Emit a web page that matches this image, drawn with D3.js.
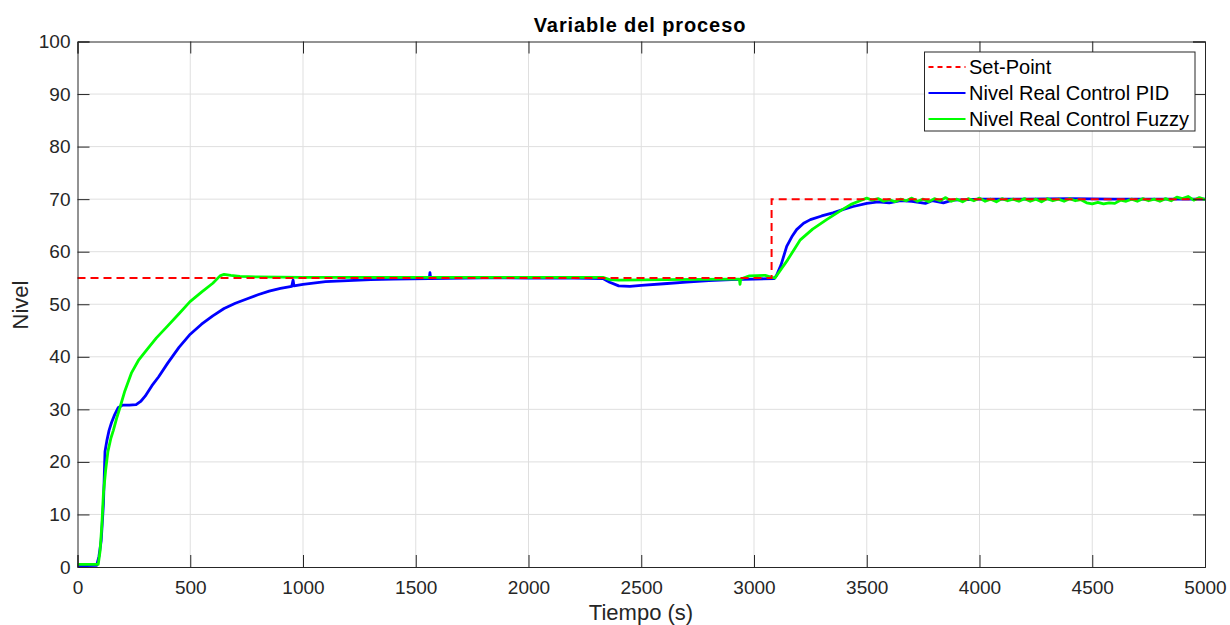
<!DOCTYPE html>
<html>
<head>
<meta charset="utf-8">
<script src="https://cdn.jsdelivr.net/npm/d3@7"></script>
<style>
  body { margin: 0; background: #fff; }
  svg { display: block; font-family: "Liberation Sans", Arial, sans-serif; }
</style>
</head>
<body>
<svg id="chart" width="1230" height="625"></svg>
<script>
// --- data ---
var xTicks = [0, 500, 1000, 1500, 2000, 2500, 3000, 3500, 4000, 4500, 5000];
var yTicks = [0, 10, 20, 30, 40, 50, 60, 70, 80, 90, 100];

var legendNames = ["Set-Point", "Nivel Real Control PID", "Nivel Real Control Fuzzy"];

// set-point (step at ~3078 s)
var setPoint = [[0, 55], [3078, 55], [3078, 70], [5000, 70]];

// PID response
var pidLevel = [
  [0, 0.2], [85, 0.3], [95, 2], [105, 5], [115, 12], [122, 22], [130, 24], [140, 26],
  [151, 27.5], [165, 29], [180, 30.3], [200, 30.8], [230, 30.8], [260, 30.9], [280, 31.5],
  [300, 32.5], [330, 34.5], [360, 36.2], [400, 38.8], [450, 41.8], [500, 44.3], [550, 46.2],
  [600, 47.8], [650, 49.2], [700, 50.2], [750, 51], [800, 51.8], [850, 52.5], [900, 53],
  [950, 53.4], [956, 54.6], [960, 53.5], [1000, 53.8], [1100, 54.3], [1200, 54.5], [1300, 54.7],
  [1400, 54.8], [1560, 54.9], [1563, 56], [1566, 54.9], [1800, 55], [2000, 55], [2200, 55],
  [2330, 54.9], [2360, 54.2], [2400, 53.5], [2450, 53.4], [2500, 53.6], [2600, 53.9],
  [2700, 54.2], [2800, 54.5], [2900, 54.7], [3000, 54.8], [3090, 54.9], [3100, 55.5],
  [3120, 57.5], [3145, 61], [3170, 63], [3189, 64.2], [3220, 65.4], [3250, 66.1], [3300, 66.8],
  [3350, 67.4], [3400, 68.1], [3440, 68.6], [3500, 69.2], [3550, 69.5], [3600, 69.3],
  [3650, 69.7], [3700, 69.6], [3760, 69.2], [3790, 69.7], [3840, 69.3], [3880, 69.8],
  [3950, 69.9], [4000, 70], [4200, 70], [4400, 70.1], [4600, 70], [4800, 70], [5000, 70]
];

// Fuzzy response
var fuzzyLevel = [
  [0, 0.5], [92, 0.5], [100, 3], [108, 8], [115, 14], [125, 18.5], [135, 22], [148, 24.5],
  [159, 26], [175, 28.5], [188, 30.3], [210, 33.5], [240, 37], [270, 39.3], [307, 41.3],
  [350, 43.6], [396, 45.7], [450, 48.2], [499, 50.5], [550, 52.3], [600, 54], [632, 55.4],
  [650, 55.7], [680, 55.5], [720, 55.3], [800, 55.2], [1000, 55.1], [1500, 55.1], [2000, 55.1],
  [2330, 55.1], [2360, 54.7], [2400, 54.6], [2600, 54.7], [2900, 54.8], [2935, 54.8],
  [2938, 53.8], [2941, 54.8], [2980, 55.4], [3050, 55.5], [3078, 55.1], [3093, 55],
  [3150, 58.5], [3204, 62.2], [3260, 64.3], [3322, 66.1], [3395, 68.1], [3430, 69],
  [3470, 69.7], [3500, 70.2], [3525, 69.8], [3550, 70.1], [3575, 69.6], [3600, 69.9],
  [3625, 69.5], [3650, 70], [3675, 69.7], [3700, 70.2], [3725, 69.6], [3750, 70],
  [3775, 69.5], [3800, 70.1], [3825, 69.7], [3850, 70.3], [3875, 69.6], [3900, 70],
  [3925, 69.5], [3950, 70.1], [3975, 69.7], [4000, 70.2], [4025, 69.6], [4050, 70],
  [4075, 69.5], [4100, 70.1], [4125, 69.7], [4150, 70], [4175, 69.6], [4200, 70.1],
  [4225, 69.6], [4250, 70], [4275, 69.5], [4300, 70.1], [4325, 69.7], [4350, 70],
  [4375, 69.6], [4400, 70.1], [4425, 69.7], [4450, 69.9], [4475, 69.3], [4500, 69.1],
  [4525, 69.4], [4550, 69.1], [4575, 69.3], [4600, 69.2], [4625, 69.8], [4650, 69.6],
  [4675, 70], [4700, 69.6], [4725, 70.1], [4750, 69.7], [4775, 70], [4800, 69.6],
  [4825, 70.1], [4850, 69.7], [4875, 70.4], [4900, 70.1], [4925, 70.5], [4950, 69.8],
  [4975, 70.3], [5000, 69.9]
];

var seriesColors = ["#ff0000", "#0000ff", "#00ff00"];

// --- layout ---
var svg = d3.select("#chart");
var margin = { left: 77.5, top: 41.5, right: 1205, bottom: 567 };
var axisColor = "#262626";

var x = d3.scaleLinear().domain([0, 5000]).range([margin.left, margin.right]);
var y = d3.scaleLinear().domain([0, 100]).range([margin.bottom, margin.top]);

// grid
svg.append("g").selectAll("line").data(xTicks.slice(1, -1)).join("line")
  .attr("x1", d => x(d)).attr("x2", d => x(d))
  .attr("y1", margin.top).attr("y2", margin.bottom)
  .attr("stroke", "#dfdfdf").attr("stroke-width", 1);
svg.append("g").selectAll("line").data(yTicks.slice(1, -1)).join("line")
  .attr("x1", margin.left).attr("x2", margin.right)
  .attr("y1", d => y(d)).attr("y2", d => y(d))
  .attr("stroke", "#dfdfdf").attr("stroke-width", 1);

// lines
var line = d3.line().x(d => x(d[0])).y(d => y(d[1]));
var plot = svg.append("g");

plot.append("path").datum(pidLevel)
  .attr("d", line).attr("fill", "none")
  .attr("stroke", seriesColors[1]).attr("stroke-width", 2.8).attr("stroke-linejoin", "round");
plot.append("path").datum(fuzzyLevel)
  .attr("d", line).attr("fill", "none")
  .attr("stroke", seriesColors[2]).attr("stroke-width", 2.8).attr("stroke-linejoin", "round");
plot.append("path").datum(setPoint)
  .attr("d", line).attr("fill", "none")
  .attr("stroke", seriesColors[0]).attr("stroke-width", 2)
  .attr("stroke-dasharray", "8,5");

// axes (ticks inside, box on)
var tickLen = 12;
var fmt = d3.format("d");
var xAxisB = d3.axisBottom(x).tickValues(xTicks).tickSize(-tickLen).tickPadding(14).tickFormat(fmt);
var yAxisL = d3.axisLeft(y).tickValues(yTicks).tickSize(-tickLen).tickPadding(7).tickFormat(fmt);

var gx = svg.append("g").attr("transform", "translate(0," + margin.bottom + ")").call(xAxisB);
var gy = svg.append("g").attr("transform", "translate(" + margin.left + ",0)").call(yAxisL);
svg.append("g").attr("transform", "translate(0," + margin.top + ")")
  .call(d3.axisTop(x).tickValues(xTicks).tickSize(-tickLen).tickFormat(""));
svg.append("g").attr("transform", "translate(" + margin.right + ",0)")
  .call(d3.axisRight(y).tickValues(yTicks).tickSize(-tickLen).tickFormat(""));

svg.selectAll(".domain").attr("stroke", axisColor);
svg.selectAll(".tick line").attr("stroke", axisColor);
[gx, gy].forEach(g => g.selectAll("text")
  .attr("fill", axisColor).style("font-size", "19px")
  .style("font-family", "Liberation Sans, Arial, sans-serif"));

// titles
svg.append("text").attr("x", 640).attr("y", 32).attr("text-anchor", "middle")
  .style("font-size", "20px").style("font-weight", "bold").style("letter-spacing", "0.9px")
  .attr("fill", "#000")
  .text("Variable del proceso");
svg.append("text").attr("x", 641).attr("y", 620).attr("text-anchor", "middle")
  .style("font-size", "22px").attr("fill", axisColor)
  .text("Tiempo (s)");
svg.append("text").attr("transform", "translate(28,305) rotate(-90)")
  .attr("text-anchor", "middle")
  .style("font-size", "22px").attr("fill", axisColor)
  .text("Nivel");

// legend
var lg = svg.append("g").attr("transform", "translate(924.5,52)");
lg.append("rect").attr("width", 270.5).attr("height", 79)
  .attr("fill", "#fff").attr("stroke", axisColor).attr("stroke-width", 1);
legendNames.forEach((name, i) => {
  var yy = 15 + i * 26;
  lg.append("line").attr("x1", 4).attr("x2", 41).attr("y1", yy).attr("y2", yy)
    .attr("stroke", seriesColors[i]).attr("stroke-width", 2)
    .attr("stroke-dasharray", i === 0 ? "5,4" : null);
  lg.append("text").attr("x", 44.5).attr("y", yy + 7)
    .style("font-size", "20px").attr("fill", "#000").text(name);
});
</script>
</body>
</html>
